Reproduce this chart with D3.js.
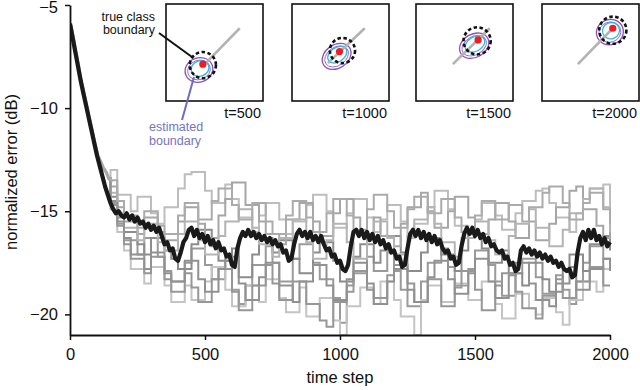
<!DOCTYPE html>
<html><head><meta charset="utf-8">
<script src="https://cdn.jsdelivr.net/npm/d3@7"></script>
<style>body{margin:0;background:#fff}svg{display:block}</style>
</head><body>
<svg id="c" width="640" height="390"></svg>
<script>
// ---- data ----
const xTicks = [0, 500, 1000, 1500, 2000];
const yTicks = [-5, -10, -15, -20];
const xLabel = "time step";
const yLabel = "normalized error (dB)";

// mean curve, every 10 time steps from 0 to 2000
const meanStep = 10;
const meanValues = [
-5.9,-6.6,-7.3,-8.0,-8.7,-9.3,-9.9,-10.5,-11.1,-11.7,
-12.3,-12.8,-13.3,-13.8,-14.2,-14.6,-14.9,-15.1,-15.0,-15.2,
-15.3,-15.1,-15.4,-15.2,-15.5,-15.3,-15.6,-15.5,-15.8,-15.6,
-15.9,-15.7,-16.0,-15.8,-16.2,-16.6,-16.5,-16.9,-16.8,-17.3,
-17.4,-17.0,-16.5,-16.3,-15.9,-15.8,-16.2,-15.9,-16.3,-16.1,
-16.5,-16.2,-16.6,-16.4,-16.8,-16.5,-16.9,-16.8,-17.2,-17.1,
-17.6,-17.7,-16.8,-16.3,-16.0,-16.2,-15.9,-16.2,-16.0,-16.3,
-16.1,-16.4,-16.2,-16.5,-16.3,-16.6,-16.4,-16.7,-16.6,-17.0,
-16.9,-17.4,-17.3,-16.6,-16.1,-15.9,-16.2,-16.0,-16.3,-16.0,
-16.4,-16.2,-16.5,-16.2,-16.6,-16.9,-16.8,-17.2,-17.1,-17.5,
-17.4,-17.8,-17.9,-17.6,-16.7,-16.0,-15.9,-16.2,-15.9,-16.3,
-16.0,-16.4,-16.1,-16.5,-16.2,-16.6,-16.4,-16.8,-16.6,-17.0,
-16.9,-17.3,-17.2,-17.7,-17.6,-16.8,-16.1,-15.9,-16.2,-15.9,
-16.3,-16.0,-16.4,-16.1,-16.5,-16.2,-16.6,-16.4,-16.8,-17.0,
-16.9,-17.3,-17.2,-17.6,-17.5,-16.7,-16.1,-15.8,-16.1,-15.8,
-16.2,-15.9,-16.3,-16.1,-16.5,-16.3,-16.7,-16.6,-16.9,-17.0,
-16.9,-17.3,-17.2,-17.6,-17.5,-17.9,-17.8,-16.9,-16.7,-17.0,
-16.8,-17.1,-16.9,-17.2,-17.0,-17.3,-17.1,-17.4,-17.2,-17.5,
-17.4,-17.7,-17.5,-17.8,-17.9,-17.8,-18.2,-18.1,-17.0,-16.3,
-16.0,-16.4,-15.9,-16.3,-15.9,-16.4,-16.2,-16.6,-16.3,-16.7,
-16.5
];

// shared early decay of individual runs (every 10 steps, 0..150)
const decayValues = [-6.0,-6.7,-7.4,-8.1,-8.8,-9.4,-10.0,-10.6,-11.2,-11.8,-12.3,-12.6,-12.9,-13.1,-13.4,-13.6];

// individual runs, every 25 steps from 150 to 2000
const runStart = 150, runStep = 25;
const run1 = [-13.0,-14.2,-14.2,-15.0,-14.3,-14.3,-15.1,-15.6,-14.8,-14.8,
-13.9,-13.2,-13.1,-13.1,-14.0,-14.6,-14.6,-13.7,-14.4,-15.3,
-15.3,-16.0,-15.2,-14.6,-14.6,-15.4,-16.1,-15.5,-15.5,-14.7,
-14.2,-14.2,-15.0,-15.8,-15.8,-15.1,-14.4,-14.4,-15.3,-16.0,
-15.4,-14.7,-14.7,-15.5,-16.3,-15.6,-15.6,-14.8,-14.0,-14.0,
-14.9,-15.7,-15.7,-16.3,-15.4,-14.6,-14.6,-15.2,-15.9,-15.9,
-15.1,-14.5,-14.5,-14.0,-13.9,-14.6,-15.3,-15.3,-16.0,-15.1,
-14.4,-13.9,-13.9,-13.7,-15.0];
const run2 = [-14.6,-15.6,-16.4,-16.4,-17.1,-16.3,-16.3,-17.2,-17.9,-18.4,
-18.4,-17.5,-16.8,-16.8,-17.6,-18.3,-18.3,-17.4,-18.8,-19.5,
-18.6,-17.6,-17.6,-16.7,-17.5,-18.4,-18.4,-17.3,-16.6,-16.6,
-17.5,-18.3,-18.3,-19.2,-20.4,-18.9,-18.0,-18.0,-17.2,-17.9,
-17.9,-17.0,-17.9,-18.8,-19.6,-19.6,-18.4,-17.5,-17.5,-16.8,
-17.7,-18.6,-18.6,-17.8,-16.9,-16.9,-17.6,-18.4,-19.1,-19.1,
-18.0,-17.3,-17.3,-18.2,-19.0,-19.0,-18.1,-18.8,-19.5,-18.4,
-17.5,-16.7,-16.7,-17.3,-17.5];
const run3 = [-14.3,-15.3,-16.0,-16.0,-16.6,-17.1,-16.3,-16.3,-16.9,-17.3,
-17.8,-17.8,-16.6,-15.9,-15.9,-16.7,-17.4,-17.4,-16.8,-18.2,
-18.2,-17.1,-16.3,-16.3,-17.0,-16.4,-16.4,-17.3,-18.0,-18.0,
-17.0,-16.5,-16.5,-17.4,-18.4,-18.4,-17.2,-16.6,-16.6,-17.5,
-16.9,-16.9,-16.2,-17.0,-17.9,-17.9,-17.0,-16.3,-16.3,-17.1,
-17.1,-17.9,-16.9,-16.1,-16.1,-16.8,-17.5,-17.5,-16.9,-18.0,
-18.0,-18.6,-17.5,-17.5,-18.3,-18.9,-18.9,-17.8,-17.1,-17.1,
-17.9,-16.6,-16.6,-16.2,-16.9];
const run4 = [-14.9,-16.0,-16.9,-17.8,-17.8,-18.5,-17.7,-17.7,-18.6,-19.4,
-19.4,-18.6,-19.3,-19.3,-18.4,-17.7,-17.7,-18.8,-19.6,-19.6,
-18.6,-18.6,-19.4,-18.3,-18.3,-19.2,-19.9,-19.9,-18.7,-20.1,
-20.1,-19.2,-19.2,-20.3,-21.0,-19.6,-19.6,-18.7,-18.7,-19.5,
-18.4,-18.4,-19.3,-20.1,-20.1,-21.0,-19.3,-18.6,-18.6,-19.4,
-19.4,-18.5,-18.5,-19.3,-19.3,-18.4,-18.4,-19.5,-20.2,-20.2,
-19.0,-19.0,-19.7,-20.0,-19.2,-19.2,-19.9,-20.5,-19.3,-19.3,
-18.4,-18.4,-18.9,-17.8,-17.8];
const run5 = [-13.8,-14.8,-15.5,-15.5,-16.1,-15.3,-15.3,-16.0,-16.4,-16.4,
-15.5,-14.8,-14.8,-15.6,-16.3,-16.3,-15.2,-14.4,-13.6,-13.6,
-14.7,-14.7,-15.5,-16.1,-16.1,-16.6,-15.4,-15.4,-14.6,-14.6,
-15.5,-16.2,-16.2,-15.1,-14.4,-14.4,-15.3,-16.1,-16.1,-15.3,
-16.2,-16.2,-16.7,-15.6,-14.8,-14.8,-14.1,-15.0,-15.8,-15.8,
-15.0,-14.3,-14.3,-15.3,-16.1,-16.1,-15.4,-14.6,-14.6,-15.5,
-16.3,-16.3,-15.5,-16.4,-16.4,-15.6,-14.8,-14.8,-14.0,-13.8,
-14.9,-14.9,-15.7,-16.3,-15.6];
const run6 = [-14.7,-15.7,-16.6,-17.3,-17.3,-18.0,-17.2,-17.2,-18.3,-18.9,
-18.9,-18.0,-18.7,-19.4,-19.4,-18.3,-17.8,-17.8,-18.9,-19.8,
-19.8,-18.6,-18.6,-17.6,-18.5,-19.3,-19.3,-18.4,-18.4,-19.5,
-19.5,-20.3,-20.6,-19.4,-19.4,-18.6,-17.9,-17.9,-18.8,-19.2,
-19.2,-18.1,-17.6,-17.6,-18.5,-19.4,-19.4,-18.3,-18.3,-19.6,
-19.6,-18.7,-17.9,-17.9,-18.8,-19.8,-19.8,-18.6,-18.0,-18.0,
-18.9,-19.7,-19.7,-20.2,-19.1,-19.1,-18.3,-19.2,-19.2,-18.4,
-18.4,-17.7,-17.7,-18.6,-18.6];
const run7 = [-14.1,-15.1,-15.8,-15.8,-16.4,-15.6,-15.6,-16.5,-16.9,-16.9,
-16.1,-15.5,-15.5,-16.4,-17.1,-17.1,-16.2,-15.5,-15.5,-14.9,
-14.9,-15.8,-16.6,-16.6,-17.2,-16.3,-16.3,-15.4,-15.4,-16.5,
-17.3,-17.3,-16.4,-15.6,-15.6,-16.5,-17.3,-17.3,-16.2,-15.5,
-15.5,-16.3,-17.1,-17.1,-16.2,-15.4,-15.4,-14.8,-15.6,-16.5,
-16.5,-17.2,-16.3,-16.3,-15.5,-15.5,-16.4,-17.1,-17.1,-16.2,
-15.6,-15.6,-14.9,-15.8,-15.8,-16.7,-16.7,-15.9,-15.1,-15.1,
-14.4,-13.9,-13.9,-14.8,-16.0];
const run8 = [-14.5,-15.5,-16.3,-17.1,-17.1,-17.8,-17.0,-17.0,-18.0,-18.4,
-18.4,-17.4,-17.4,-18.3,-18.9,-18.9,-17.8,-17.2,-17.2,-18.5,
-19.3,-19.3,-18.2,-17.5,-17.5,-18.6,-18.6,-19.4,-18.4,-18.4,
-17.6,-17.6,-18.6,-19.3,-19.3,-18.3,-17.5,-17.5,-18.5,-19.5,
-19.5,-18.4,-17.8,-17.8,-18.8,-19.4,-19.4,-18.2,-17.4,-17.4,
-18.3,-19.0,-19.0,-18.0,-17.3,-17.3,-18.4,-19.2,-19.2,-18.1,
-17.5,-17.5,-18.5,-19.3,-19.3,-19.6,-18.5,-18.5,-17.7,-18.8,
-18.8,-17.8,-17.8,-17.3,-17.9];
const run9 = [-13.5,-14.5,-15.2,-15.2,-15.8,-15.0,-15.0,-15.7,-16.1,-16.1,
-15.2,-14.6,-14.6,-15.4,-15.4,-14.5,-13.9,-13.9,-14.7,-15.4,
-15.4,-14.6,-14.6,-15.5,-16.1,-16.1,-15.2,-14.5,-14.5,-15.3,
-16.0,-16.0,-15.1,-14.4,-14.4,-15.2,-15.9,-15.9,-14.9,-14.2,
-14.2,-15.0,-15.8,-15.8,-14.9,-14.3,-14.3,-15.1,-15.1,-14.4,
-14.4,-15.3,-16.0,-16.0,-15.2,-14.5,-14.5,-15.4,-15.4,-14.7,
-14.7,-15.5,-14.8,-14.8,-14.1,-13.8,-13.8,-14.6,-15.4,-15.4,
-14.6,-14.1,-14.1,-14.9,-15.6];
const runs = [run1, run2, run3, run4, run5, run6, run7, run8, run9];
const runColors = ["#bdbdbd","#9a9a9a","#8c8c8c","#c4c4c4","#a6a6a6","#979797","#b4b4b4","#919191","#ababab"];

// insets (positions as fractions of the inset box)
const insetLabels = ["t=500", "t=1000", "t=1500", "t=2000"];
const insetRed = [[0.38,0.62],[0.49,0.49],[0.64,0.37],[0.73,0.25]];
const insetTrue = [[0.38,0.63,0.135],[0.52,0.48,0.13],[0.63,0.38,0.14],[0.73,0.27,0.14]];
const insetEst = [[0.34,0.68,0.145,0.125,-20],[0.46,0.54,0.16,0.12,-35],[0.60,0.43,0.16,0.12,-30],[0.70,0.29,0.14,0.13,-20]];
const insetLine = [[0.76,0.25,0.42,0.60],[0.75,0.25,0.37,0.61],[0.76,0.25,0.38,0.62],[0.74,0.24,0.37,0.62]];

// ---- drawing ----
const svg = d3.select("#c");
const x = d3.scaleLinear().domain([0, 2000]).range([70, 610]);
const y = d3.scaleLinear().domain([-21, -5]).range([335, 5]);
const FONT = "'Liberation Sans', Arial, sans-serif";

svg.append("defs").append("clipPath").attr("id","plot")
  .append("rect").attr("x",70).attr("y",0).attr("width",545).attr("height",335);

const g = svg.append("g").attr("clip-path","url(#plot)");

// decay segment
const decayPts = decayValues.map((v,i)=>[i*10, v]);
g.append("path").datum(decayPts)
  .attr("fill","none").attr("stroke","#a8a8a8").attr("stroke-width",3.2)
  .attr("d", d3.line().x(d=>x(d[0])+1).y(d=>y(d[1])));

const stepLine = d3.line().curve(d3.curveStepAfter).x(d=>x(d[0])).y(d=>y(d[1]));
runs.forEach((r, k) => {
  const pts = [[140, decayValues[14]]].concat(r.map((v,i)=>[runStart + i*runStep, v]));
  g.append("path").datum(pts)
    .attr("fill","none").attr("stroke", runColors[k]).attr("stroke-width",2)
    .attr("stroke-linejoin","miter")
    .attr("d", stepLine);
});

// mean
const meanPts = meanValues.map((v,i)=>[i*meanStep, v]);
g.append("path").datum(meanPts)
  .attr("fill","none").attr("stroke","#1a1a1a").attr("stroke-width",4.2)
  .attr("stroke-linejoin","round")
  .attr("d", d3.line().x(d=>x(d[0])).y(d=>y(d[1])));

// axes
const ax = svg.append("g").attr("transform","translate(0,335)")
  .call(d3.axisBottom(x).tickValues(xTicks).tickSize(5).tickSizeOuter(0).tickPadding(8).tickFormat(d3.format("d")));
const ay = svg.append("g").attr("transform","translate(70,0)")
  .call(d3.axisLeft(y).tickValues(yTicks).tickSize(5).tickSizeOuter(0).tickPadding(7));
[ax, ay].forEach(a => {
  a.select(".domain").attr("stroke","#111").attr("stroke-width",1.8);
  a.selectAll(".tick line").attr("stroke","#111").attr("stroke-width",1.5);
  a.selectAll("text").attr("font-family",FONT).attr("font-size",16.5).attr("fill","#111");
});
ay.selectAll(".tick text").filter(d => d === -5).attr("dy","0.45em");

svg.append("text").attr("x",340).attr("y",383).attr("text-anchor","middle")
  .attr("font-family",FONT).attr("font-size",16.5).attr("fill","#111").text(xLabel);
svg.append("text").attr("transform","translate(17,172) rotate(-90)").attr("text-anchor","middle")
  .attr("font-family",FONT).attr("font-size",16.5).attr("fill","#111").text(yLabel);

// insets
const boxX = [166, 292, 416, 542], boxY = 4, boxS = 97;
insetLabels.forEach((lab, i) => {
  const bx = d3.scaleLinear().domain([0,1]).range([boxX[i], boxX[i]+boxS]);
  const by = d3.scaleLinear().domain([0,1]).range([boxY, boxY+boxS]);
  const ig = svg.append("g");
  ig.append("rect").attr("x",bx(0)).attr("y",by(0)).attr("width",boxS).attr("height",boxS)
    .attr("fill","#fff").attr("stroke","#111").attr("stroke-width",1.6);
  const e = insetEst[i];
  const eg = ig.append("g").attr("transform",`translate(${bx(e[0])},${by(e[1])}) rotate(${e[4]})`);
  eg.append("ellipse").attr("rx",e[2]*boxS).attr("ry",e[3]*boxS).attr("fill","#fff")
    .attr("stroke","#8a52b4").attr("stroke-width",1.3);
  eg.append("ellipse").attr("rx",e[2]*boxS-2.5).attr("ry",e[3]*boxS-2.5).attr("fill","none")
    .attr("stroke","#9b6cc2").attr("stroke-width",0.9);
  eg.append("ellipse").attr("cx",1.5).attr("cy",-1).attr("rx",e[2]*boxS-5).attr("ry",e[3]*boxS-4.5).attr("fill","none")
    .attr("stroke","#33b5e5").attr("stroke-width",1.3);
  const l = insetLine[i];
  ig.append("line").attr("x1",bx(l[0])).attr("y1",by(l[1])).attr("x2",bx(l[2])).attr("y2",by(l[3]))
    .attr("stroke","#b3b3b3").attr("stroke-width",2.6);
  const t = insetTrue[i];
  ig.append("circle").attr("cx",bx(t[0])).attr("cy",by(t[1])).attr("r",t[2]*boxS)
    .attr("fill","none").attr("stroke","#111").attr("stroke-width",2.6).attr("stroke-dasharray","3.5,2.5");
  const rd = insetRed[i];
  ig.append("circle").attr("cx",bx(rd[0])).attr("cy",by(rd[1])).attr("r",3.6).attr("fill","#ee1c24");
  ig.append("text").attr("x",bx(1)-2).attr("y",118).attr("text-anchor","end")
    .attr("font-family",FONT).attr("font-size",14.5).attr("fill","#111").text(lab);
});

// annotations
const ann = svg.append("g").attr("font-family",FONT).attr("font-size",12.5);
ann.append("text").attr("x",155).attr("y",20.5).attr("text-anchor","end").attr("fill","#111").text("true class");
ann.append("text").attr("x",155).attr("y",33.5).attr("text-anchor","end").attr("fill","#111").text("boundary");
svg.append("line").attr("x1",159).attr("y1",33).attr("x2",192).attr("y2",57).attr("stroke","#111").attr("stroke-width",2);
ann.append("text").attr("x",149).attr("y",131).attr("fill","#7474c4").text("estimated");
ann.append("text").attr("x",149).attr("y",144.5).attr("fill","#7474c4").text("boundary");
svg.append("line").attr("x1",194).attr("y1",77).attr("x2",182).attr("y2",120).attr("stroke","#6c6cc0").attr("stroke-width",2);
</script>
</body></html>
